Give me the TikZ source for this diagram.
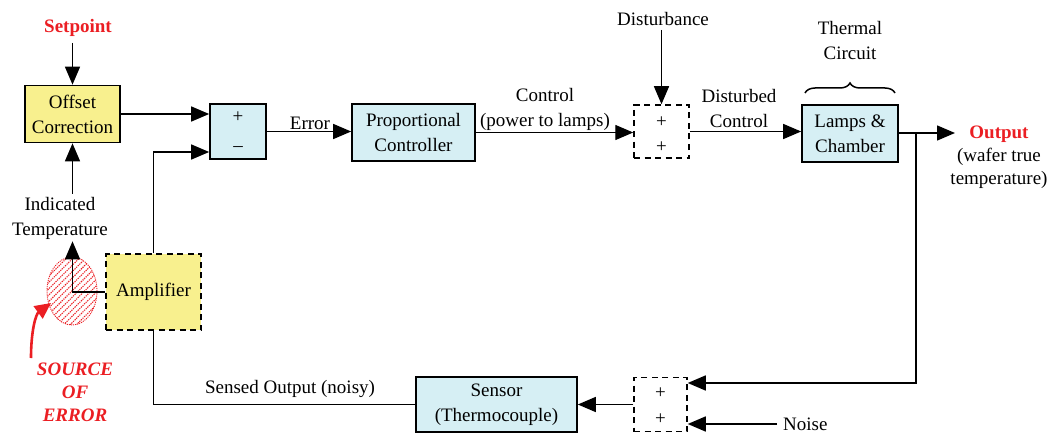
\documentclass[tikz,border=0pt]{standalone}
\usepackage{fontspec}
\setmainfont{Liberation Serif}
\usetikzlibrary{arrows.meta,shapes.geometric,patterns.meta,decorations.pathreplacing,calc}
\definecolor{boxyellow}{RGB}{248,240,142}
\definecolor{boxcyan}{RGB}{214,239,244}
\definecolor{errred}{RGB}{235,30,35}
\begin{document}
\begin{tikzpicture}[x=1pt,y=-1pt,
  every node/.style={font=\fontsize{19}{25}\selectfont, inner sep=0pt},
  blk/.style={draw, line width=1.6pt, align=center},
  dashblk/.style={draw, line width=1.5pt, dash pattern=on 6pt off 4.5pt},
  arr/.style={line width=1.4pt, -{Triangle[length=18pt,width=15pt]}},
  ln/.style={line width=1.4pt},
  lbl/.style={align=center}
]
\useasboundingbox (0,0) rectangle (1057,433);

% blocks
\node[blk, fill=boxyellow, minimum width=95pt, minimum height=57pt] (offset) at (72.5,114) {Offset\\Correction};
\node[blk, fill=boxcyan, minimum width=56pt, minimum height=55pt] (sum1) at (238,131.5) {};
\node (sp1) at ($(sum1.center)+(0,-14)$) {+};
\node (sm1) at ($(sum1.center)+(0,18)$) {\textendash};
\node[blk, fill=boxcyan, minimum width=123pt, minimum height=57pt] (prop) at (413.5,132.5) {Proportional\\Controller};
\node[dashblk, minimum width=55pt, minimum height=53pt] (dist) at (661.5,131.5) {};
\node (dp1) at ($(dist.center)+(0,-9)$) {+};
\node (dp2) at ($(dist.center)+(0,16)$) {+};
\node[blk, fill=boxcyan, minimum width=96pt, minimum height=57pt] (lamps) at (850,133.5) {Lamps \&\\Chamber};
\node[dashblk, fill=boxyellow, minimum width=95pt, minimum height=76pt] (amp) at (153.5,292) {Amplifier};
\node[blk, fill=boxcyan, minimum width=161pt, minimum height=55pt] (sensor) at (496.5,404.5) {Sensor\\(Thermocouple)};
\node[dashblk, minimum width=53pt, minimum height=54pt] (low) at (660.5,404.5) {};
\node (lp1) at ($(low.center)+(0,-11)$) {+};
\node (lp2) at ($(low.center)+(0,15)$) {+};

% labels
\node[font=\fontsize{19}{25}\selectfont\bfseries, text=errred] (setpoint) at (78,28) {Setpoint};
\node[lbl] (indtemp) at (60,218) {Indicated\\Temperature};
\node (errlbl) at (310,123) {Error};
\node[lbl] (ctrl) at (545,109) {Control\\(power to lamps)};
\node (disturb) at (663,19) {Disturbance};
\node[lbl] (dctrl) at (739,109) {Disturbed\\Control};
\node[lbl] (thermal) at (850,41) {Thermal\\Circuit};
\node[lbl, font=\fontsize{19}{23}\selectfont] (output) at (999,157) {\textcolor{errred}{\bfseries Output}\\(wafer true\\temperature)};
\node (sensed) at (290,389) {Sensed Output (noisy)};
\node[anchor=west, inner xsep=6pt] (noise) at (777,424) {Noise};
\node[lbl, text=errred, font=\fontsize{19}{23}\selectfont\bfseries\itshape] (source) at (75,392) {SOURCE\\OF\\ERROR};

% source of error ellipse
\node[ellipse, draw=errred, densely dotted, line width=0.9pt, pattern={Lines[angle=45, distance=4.5pt, line width=1.1pt]}, pattern color=errred, minimum width=50pt, minimum height=68pt] (errell) at (72,291) {};

% coordinates
\coordinate (outend) at (955,133);
\coordinate (junc) at (916,133);
\coordinate (fbcorner) at (916,383);
\coordinate (redstart) at (31,358);
\coordinate (redtip) at (51,303);

% connectors
\draw[arr] (setpoint.south -| offset.north) ++(0,6) -- (offset.north);
\draw[arr] (indtemp.north -| offset.south) ++(0,-3) -- (offset.south);
\draw[arr] (offset.east) -- (offset.east -| sum1.west);
\draw[arr] (amp.north) |- ($(sum1.west)+(0,20.5)$);
\draw[arr] (sum1.east) -- (sum1.east -| prop.west);
\draw[arr] (prop.east) -- (prop.east -| dist.west);
\draw[arr] (disturb.south -| dist.north) ++(0,4) -- (dist.north);
\draw[arr] (dist.east) -- (dist.east -| lamps.west);
\draw[arr] (lamps.east |- outend) -- (outend);
\draw[arr] (junc) -- (fbcorner) -- (fbcorner -| low.east);
\draw[arr] (noise.west) -- (noise.west -| low.east);
\draw[arr] (low.west) -- (low.west -| sensor.east);
\draw[ln] (sensor.west) -| (amp.south);
\draw[arr] (amp.west) -| ($(indtemp.south -| offset.south)+(0,2)$);

% red arrow
\draw[errred, line width=2.6pt, -{Triangle[length=16pt,width=15pt]}] (redstart) .. controls (31,330) and (36,314) .. (redtip);

% brace
\draw[line width=1.5pt, decorate, decoration={brace, amplitude=10pt}] (805,93) -- (895,93);
\end{tikzpicture}
\end{document}
